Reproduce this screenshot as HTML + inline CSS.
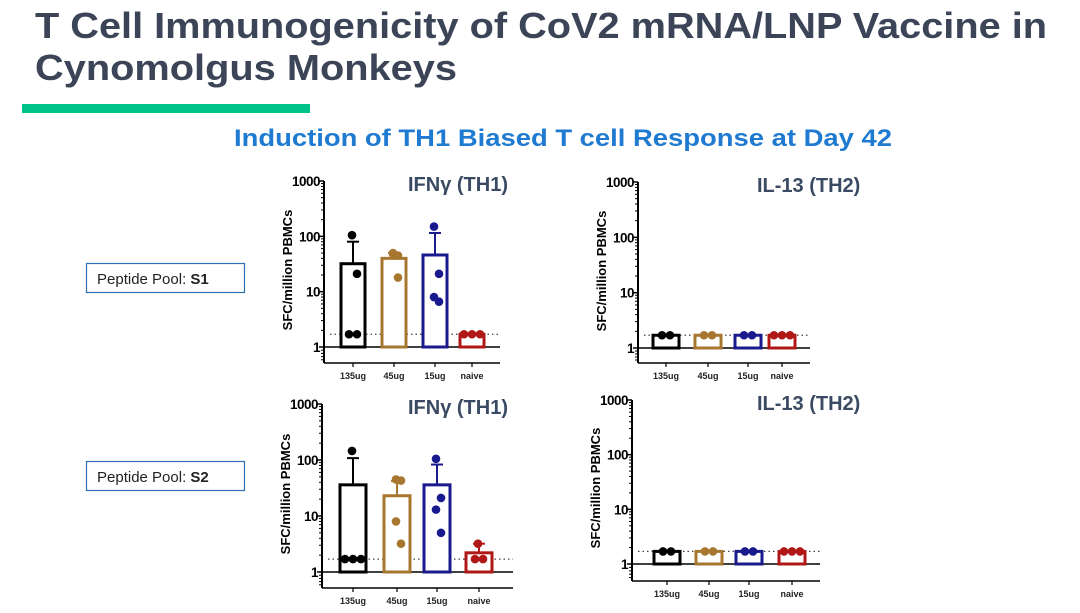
<!DOCTYPE html>
<html><head><meta charset="utf-8"><style>
body{margin:0;background:#fff;}
svg{display:block;font-family:"Liberation Sans",Arial,sans-serif;}
</style></head><body>
<svg id="s" width="1080" height="613" viewBox="0 0 1080 613">
<text x="35" y="38" font-size="36" font-weight="bold" fill="#3b4557" textLength="1012" lengthAdjust="spacingAndGlyphs">T Cell Immunogenicity of CoV2 mRNA/LNP Vaccine in</text>
<text x="35" y="80" font-size="36" font-weight="bold" fill="#3b4557" textLength="422" lengthAdjust="spacingAndGlyphs">Cynomolgus Monkeys</text>
<rect x="22" y="104" width="288" height="9" fill="#00c389"/>
<text x="234" y="146" font-size="24" font-weight="bold" fill="#1f7bd1" textLength="658" lengthAdjust="spacingAndGlyphs">Induction of TH1 Biased T cell Response at Day 42</text>
<rect x="86.5" y="263.5" width="158" height="29" fill="#fff" stroke="#2f6db5" stroke-width="1.2"/>
<text x="97" y="284" font-size="15" fill="#222">Peptide Pool: <tspan font-weight="bold">S1</tspan></text>
<rect x="86.5" y="461.5" width="158" height="29" fill="#fff" stroke="#2f6db5" stroke-width="1.2"/>
<text x="97" y="482" font-size="15" fill="#222">Peptide Pool: <tspan font-weight="bold">S2</tspan></text>
</svg>
<script>
const categories=["135ug","45ug","15ug","naive"];
const colors=["#000000","#a8772f","#1a1a8f","#b01818"];
const lod=1.7;
const s1IfnMeans=[32,40,46,1.7];
const s1IfnErr=[80,50,115,1.7];
const s1IfnPts=[[105,21,1.7,1.7],[50,45,48,18],[150,21,8,6.6],[1.7,1.7,1.7]];
const s1Il13Means=[1.7,1.7,1.7,1.7];
const s1Il13Err=[1.7,1.7,1.7,1.7];
const s1Il13Pts=[[1.7,1.7],[1.7,1.7],[1.7,1.7],[1.7,1.7,1.7]];
const s2IfnMeans=[36,23,36,2.2];
const s2IfnErr=[108,42,83,3.2];
const s2IfnPts=[[145,1.7,1.7,1.7],[45,43,8,3.2],[105,21,13,5],[3.2,1.7,1.7]];
const s2Il13Means=[1.7,1.7,1.7,1.7];
const s2Il13Err=[1.7,1.7,1.7,1.7];
const s2Il13Pts=[[1.7,1.7],[1.7,1.7],[1.7,1.7],[1.7,1.7,1.7]];
const yTicks=["1","10","100","1000"];

const svg=document.getElementById('s');
const NS="http://www.w3.org/2000/svg";
function mk(tag,attrs,parent){const e=document.createElementNS(NS,tag);for(const k in attrs)e.setAttribute(k,attrs[k]);(parent||svg).appendChild(e);return e;}

function chart(id,cfg,means,errs,pts,title,titleX){
  const g=mk('g',{});
  
  
  const y=v=>cfg.y1-(Math.log10(v))/3*(cfg.y1-cfg.y1000);
  const ax=mk('line',{x1:cfg.ax,y1:cfg.y1000,x2:cfg.ax,y2:cfg.yb,stroke:'#000','stroke-width':2},g);
  
  
  for(let d=0;d<=3;d++){
    const ty=y(Math.pow(10,d));
    mk('line',{x1:cfg.ax-5,y1:ty,x2:cfg.ax,y2:ty,stroke:'#000','stroke-width':1.5},g);
    const t=mk('text',{x:cfg.ax-4,y:ty+5,'font-size':13.5,'font-weight':'bold','text-anchor':'end',fill:'#000','letter-spacing':'-0.5'},g);
    t.textContent=yTicks[d];
    
    
    if(d<3)for(let m=2;m<10;m++){const my=y(m*Math.pow(10,d));mk('line',{x1:cfg.ax-3,y1:my,x2:cfg.ax,y2:my,stroke:'#000','stroke-width':1},g);}
  }
  for(let m=2;m<=5;m++){const my=cfg.y1+(cfg.yb-cfg.y1)*(m-1)/5;mk('line',{x1:cfg.ax-3,y1:my,x2:cfg.ax,y2:my,stroke:'#000','stroke-width':1},g);}
  const yt=mk('text',{x:0,y:0,'font-size':13,'font-weight':'bold',fill:'#000','text-anchor':'middle',transform:`translate(${cfg.ax-32},${(cfg.y1000+cfg.y1)/2+6}) rotate(-90)`},g);
  yt.textContent='SFC/million PBMCs';
  
  
  mk('line',{x1:cfg.ax,y1:cfg.y1,x2:cfg.xe,y2:cfg.y1,stroke:'#000','stroke-width':1.5},g);
  const xa=mk('line',{x1:cfg.ax,y1:cfg.yb,x2:cfg.xe,y2:cfg.yb,stroke:'#000','stroke-width':1.5},g);
  
  
  const dl=mk('line',{x1:cfg.ax+6,y1:y(lod),x2:cfg.xe,y2:y(lod),stroke:'#444','stroke-width':1.2,'stroke-dasharray':'1.5 3'},g);
  
  
  const bw=cfg.bw;
  categories.forEach((c,i)=>{
    const cx=cfg.cx[i],col=colors[i];
    const top=y(means[i]);
    if(errs[i]>means[i]){
      mk('line',{x1:cx,y1:top,x2:cx,y2:y(errs[i]),stroke:col,'stroke-width':2},g);
      mk('line',{x1:cx-6,y1:y(errs[i]),x2:cx+6,y2:y(errs[i]),stroke:col,'stroke-width':2},g);
    }
    const b=mk('rect',{x:cx-bw/2,y:top,width:bw,height:cfg.y1-top,fill:'#fff',stroke:col,'stroke-width':3},g);
    
    
    const counts={};pts[i].forEach(v=>counts[v]=(counts[v]||0)+1);
    const seen={};
    pts[i].forEach((v,j)=>{
      const n=counts[v],k=(seen[v]=(seen[v]||0)+1)-1;
      const off=n===1?((j%2)?4:-1):(k-(n-1)/2)*8;
      const p=mk('circle',{cx:cx+off,cy:y(v),r:4.3,fill:col},g);
      
      
    });
    mk('line',{x1:cx,y1:cfg.yb,x2:cx,y2:cfg.yb+4,stroke:'#000','stroke-width':1.2},g);
    const t=mk('text',{x:cx,y:cfg.yb+16,'font-size':9,'font-weight':'bold','text-anchor':'middle',fill:'#222'},g);
    t.textContent=c;
    
    
  });
  const tt=mk('text',{x:titleX,y:cfg.y1000+10,'font-size':20,'font-weight':'bold',fill:'#3b4a63'},g);
  tt.textContent=title;
  
  
}
chart('s1-ifn-chart',{ax:324,y1000:181,y1:347,yb:363,xe:500,bw:24,cx:[353,394,435,472]},s1IfnMeans,s1IfnErr,s1IfnPts,'IFNγ (TH1)',408);
chart('s1-il13-chart',{ax:638,y1000:182,y1:348,yb:363,xe:810,bw:26,cx:[666,708,748,782]},s1Il13Means,s1Il13Err,s1Il13Pts,'IL-13 (TH2)',757);
chart('s2-ifn-chart',{ax:322,y1000:404,y1:572,yb:588,xe:513,bw:26,cx:[353,397,437,479]},s2IfnMeans,s2IfnErr,s2IfnPts,'IFNγ (TH1)',408);
chart('s2-il13-chart',{ax:632,y1000:400,y1:564,yb:581,xe:820,bw:26,cx:[667,709,749,792]},s2Il13Means,s2Il13Err,s2Il13Pts,'IL-13 (TH2)',757);
</script>
</body></html>
